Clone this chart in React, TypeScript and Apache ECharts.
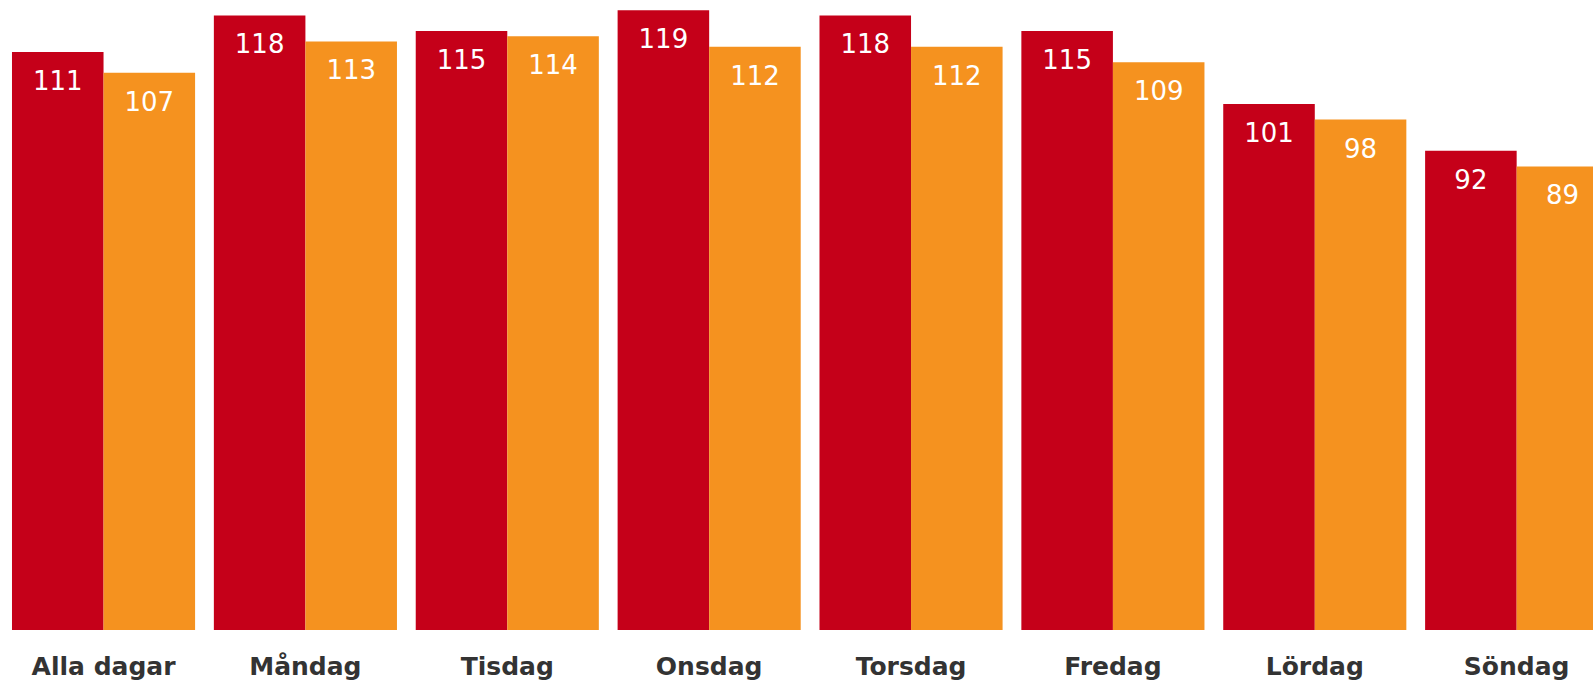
import React, { useEffect, useRef } from "react";
import * as echarts from "echarts";

const categories = ["Alla dagar", "Måndag", "Tisdag", "Onsdag", "Torsdag", "Fredag", "Lördag", "Söndag"];
const seriesA = [111, 118, 115, 119, 118, 115, 101, 92];
const seriesB = [107, 113, 114, 112, 112, 109, 98, 89];

export default function App() {
  const ref = useRef<HTMLDivElement>(null);
  useEffect(() => {
    if (!ref.current) return;
    const chart = echarts.init(ref.current, undefined, { renderer: "svg" });
    const label = {
      show: true,
      position: "insideTop",
      distance: 16,
      color: "#ffffff",
      fontFamily: "DejaVu Sans",
      fontSize: 26,
      fontWeight: "normal",
    };
    chart.setOption({
      animation: false,
      backgroundColor: "#ffffff",
      grid: {
        left: 2.6,
        top: 5,
        width: 1615,
        bottom: 51,
        containLabel: false,
        outerBoundsMode: "none",
      },
      xAxis: {
        type: "category",
        data: categories,
        axisLine: { show: false },
        axisTick: { show: false },
        axisLabel: {
          margin: 24,
          color: "#333333",
          fontFamily: "DejaVu Sans",
          fontWeight: "bold",
          fontSize: 25,
          interval: 0,
        },
      },
      yAxis: {
        type: "value",
        min: 0,
        max: 120,
        show: false,
        splitLine: { show: false },
      },
      series: [
        {
          type: "bar",
          data: seriesA,
          barGap: "0%",
          barCategoryGap: "9.3%",
          itemStyle: { color: "#C50019" },
          label,
        },
        {
          type: "bar",
          data: seriesB,
          barGap: "0%",
          barCategoryGap: "9.3%",
          itemStyle: { color: "#F5921F" },
          label,
        },
      ],
    });
    return () => chart.dispose();
  }, []);
  return (
    <div
      ref={ref}
      style={{ position: "fixed", left: 0, top: 0, width: 1593, height: 681, background: "#fff" }}
    />
  );
}
